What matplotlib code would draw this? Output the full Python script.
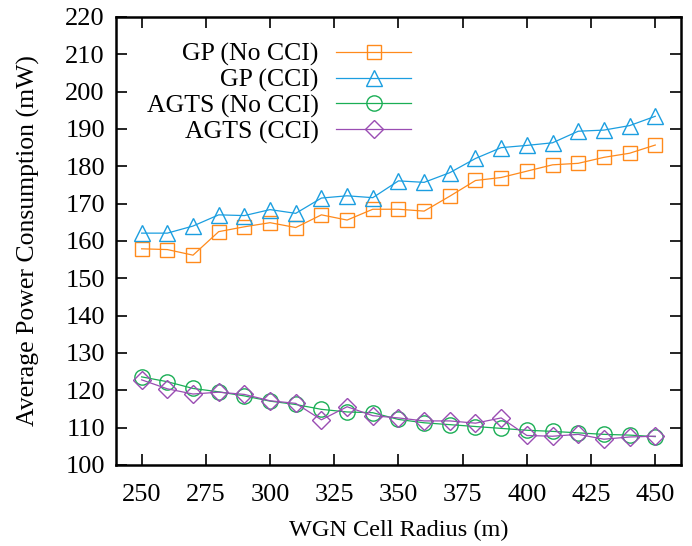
import matplotlib
matplotlib.use("Agg")
import matplotlib.pyplot as plt

# cell radius (m)
radius = [250, 260, 270, 280, 290, 300, 310, 320, 330, 340, 350,
          360, 370, 380, 390, 400, 410, 420, 430, 440, 450]

# average power consumption (mW)
gp_no_cci = [157.9, 157.7, 156.2, 162.5, 163.8, 164.9, 163.6, 167.0, 165.6, 168.5, 168.5,
             168.0, 172.0, 176.2, 177.0, 178.7, 180.4, 180.8, 182.4, 183.5, 185.7]
gp_cci = [162.1, 162.1, 164.0, 167.0, 166.8, 168.4, 167.4, 171.5, 172.1, 171.6, 176.1,
          175.7, 178.3, 182.1, 185.0, 185.6, 186.3, 189.4, 189.7, 190.9, 193.4]
agts_no_cci = [123.6, 122.3, 120.5, 119.6, 118.5, 117.1, 116.2, 114.9, 114.2, 114.0, 112.2,
               111.3, 110.8, 110.3, 109.8, 109.3, 109.0, 108.6, 108.2, 108.0, 107.6]
agts_cci = [122.8, 120.4, 119.0, 119.5, 118.9, 117.2, 116.5, 112.1, 115.6, 113.2, 112.6,
            111.8, 111.8, 111.2, 112.6, 107.9, 107.7, 108.2, 106.9, 107.5, 107.7]

labels = ["GP (No CCI)", "GP (CCI)", "AGTS (No CCI)", "AGTS (CCI)"]
colors = ["#ff8a1c", "#1b9ee0", "#1aae55", "#9a4db3"]
markers = ["s", "^", "o", "D"]
msizes = [10, 11, 11, 9]

plt.rcParams["font.family"] = ["Liberation Serif", "DejaVu Serif"]

fig = plt.figure(figsize=(6.92, 5.46), dpi=100)
ax = fig.add_axes([0.1676, 0.1484, 0.8164, 0.8205])

series = [gp_no_cci, gp_cci, agts_no_cci, agts_cci]
for y, lab, c, m, ms in zip(series, labels, colors, markers, msizes):
    ax.plot(radius, y, color=c, lw=0.9, marker=m, ms=ms, mfc="none",
            mec=c, mew=1.0, label=lab)

ax.set_xlim(240, 460)
ax.set_ylim(100, 220)
ax.set_xticks(range(250, 451, 25))
ax.set_yticks(range(100, 221, 10))
ax.tick_params(direction="in", length=8, width=1.2, top=True, right=True,
               labelsize=19)
ax.tick_params(axis="x", pad=14)
ax.tick_params(axis="y", pad=8)
for s in ax.spines.values():
    s.set_linewidth(1.8)

ax.set_xlabel("WGN Cell Radius (m)", fontsize=17.5, labelpad=10)
ax.set_ylabel("Average Power Consumption (mW)", fontsize=18.5, labelpad=18)

ax.legend(loc="upper right", bbox_to_anchor=(0.522, 0.942), frameon=False,
          markerfirst=False, numpoints=1, handlelength=2.9, handletextpad=0.7,
          labelspacing=0.09, borderpad=0, borderaxespad=0, fontsize=18.5)

fig.savefig("out.png", dpi=100)
